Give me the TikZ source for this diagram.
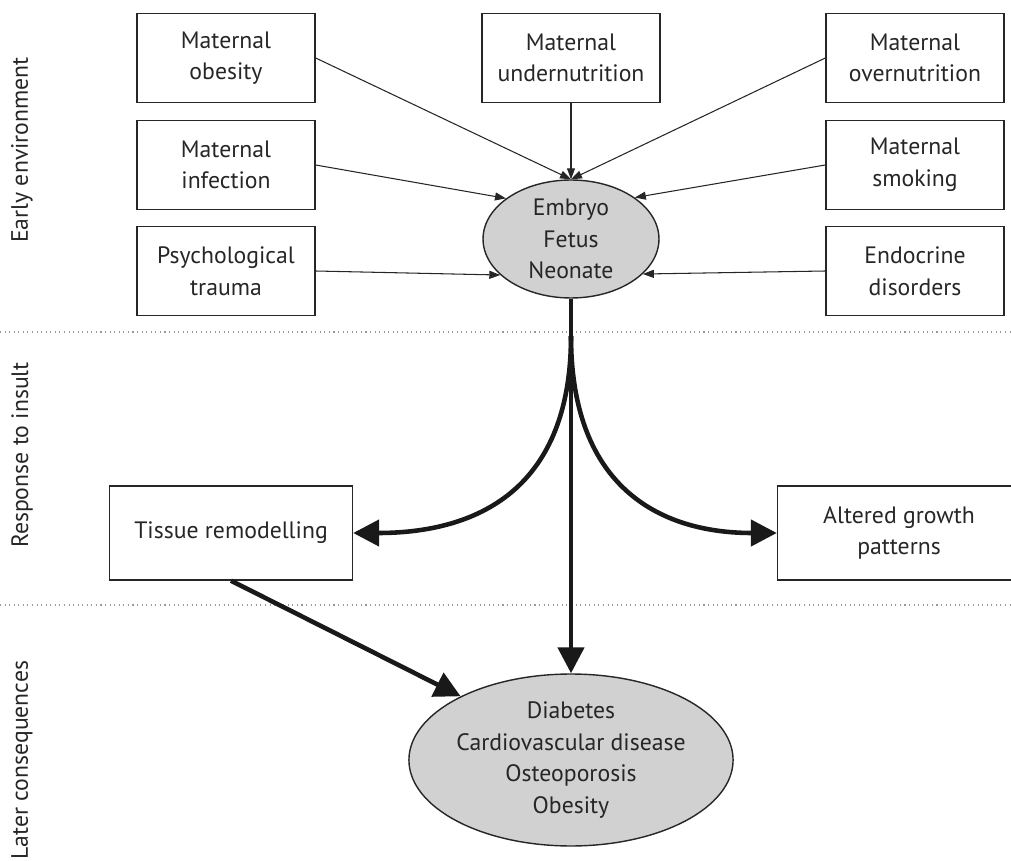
\documentclass[tikz,border=0pt]{standalone}
\usepackage{fontspec}
\setmainfont{PT Sans}
\usetikzlibrary{arrows.meta,shapes.geometric}

\def\boxwd{3.56cm}
\def\boxht{1.78cm}

\begin{document}
\begin{tikzpicture}[x=0.02cm,y=-0.02cm,font=\fontsize{13.5}{18}\selectfont,
	every node/.append style={text=black!85}]
    \tikzstyle{factor}=[rectangle,draw=black!85,line width=0.8pt,minimum width=\boxwd,minimum height=\boxht,align=center,inner sep=0pt]
    \tikzstyle{response}=[factor,minimum width=4.86cm,minimum height=1.88cm]
    \tikzstyle{stage}=[ellipse,draw=black!85,line width=0.8pt,fill=black!18,align=center,inner sep=0pt]
    \tikzstyle{thin arrow}=[draw=black!85,line width=0.6pt,-{Triangle[length=0.22cm,width=0.16cm]}]
    \tikzstyle{thick arrow}=[draw=black!90,line width=2.6pt,-{Triangle[length=0.52cm,width=0.52cm]}]
    \tikzstyle{phase}=[rotate=90,font=\fontsize{13.5}{15}\selectfont]
    \tikzstyle{divider}=[draw=black!40,dotted,line width=0.6pt]

    \useasboundingbox (0,0) rectangle (1011,861);

    % Annotate the phases
    \node[phase] (early) at (22,150) {Early environment};
    \node[phase] (resp) at (22,455) {Response to insult};
    \node[phase] (later) at (22,760) {Later consequences};
    \draw[divider] (0,332) -- (1011,332);
    \draw[divider] (0,605) -- (1011,605);

    % Draw the early factors
    \node[factor] (obes) at (226,58) {Maternal\\obesity};
    \node[factor] (infec) at (226,165) {Maternal\\infection};
    \node[factor] (trauma) at (226,271) {Psychological\\trauma};
    \node[factor] (under) at (571,58) {Maternal\\undernutrition};
    \node[factor] (over) at (915,58) {Maternal\\overnutrition};
    \node[factor] (smok) at (915,165) {Maternal\\smoking};
    \node[factor] (endo) at (915,271) {Endocrine\\disorders};

    % Draw the two stages
    \node[stage,minimum width=3.52cm,minimum height=2.36cm] (embryo) at (571,239) {Embryo\\Fetus\\Neonate};
    \node[stage,minimum width=6.4cm,minimum height=3.44cm] (disease) at (571,760)
    	{Diabetes\\Cardiovascular disease\\Osteoporosis\\Obesity};

    % Draw the responses
    \node[response] (tissue) at (231,533) {Tissue remodelling};
    \node[response] (growth) at (899,533) {Altered growth\\patterns};

    % Connect every factor with the embryo
    \draw[thin arrow] (obes.east) -- (embryo.north);
    \draw[thin arrow] (under) -- (embryo.north);
    \draw[thin arrow] (over.west) -- (embryo.north);
    \draw[thin arrow] (infec.east) -- (embryo.148);
    \draw[thin arrow] (trauma.east) -- (embryo.207);
    \draw[thin arrow] (smok.west) -- (embryo.33);
    \draw[thin arrow] (endo.west) -- (embryo.334);

    % Connect the embryo with the responses and the later stage
    \coordinate (split) at (571,336);
    \draw[thick arrow] (embryo.south) -- (disease.north);
    \draw[thick arrow] (split) to[out=-90,in=0,out looseness=1.4,in looseness=1] (tissue.east);
    \draw[thick arrow] (split) to[out=-90,in=180,out looseness=1.4,in looseness=1] (growth.west);
    \draw[thick arrow] (tissue.south) -- (disease.150);
\end{tikzpicture}
\end{document}
